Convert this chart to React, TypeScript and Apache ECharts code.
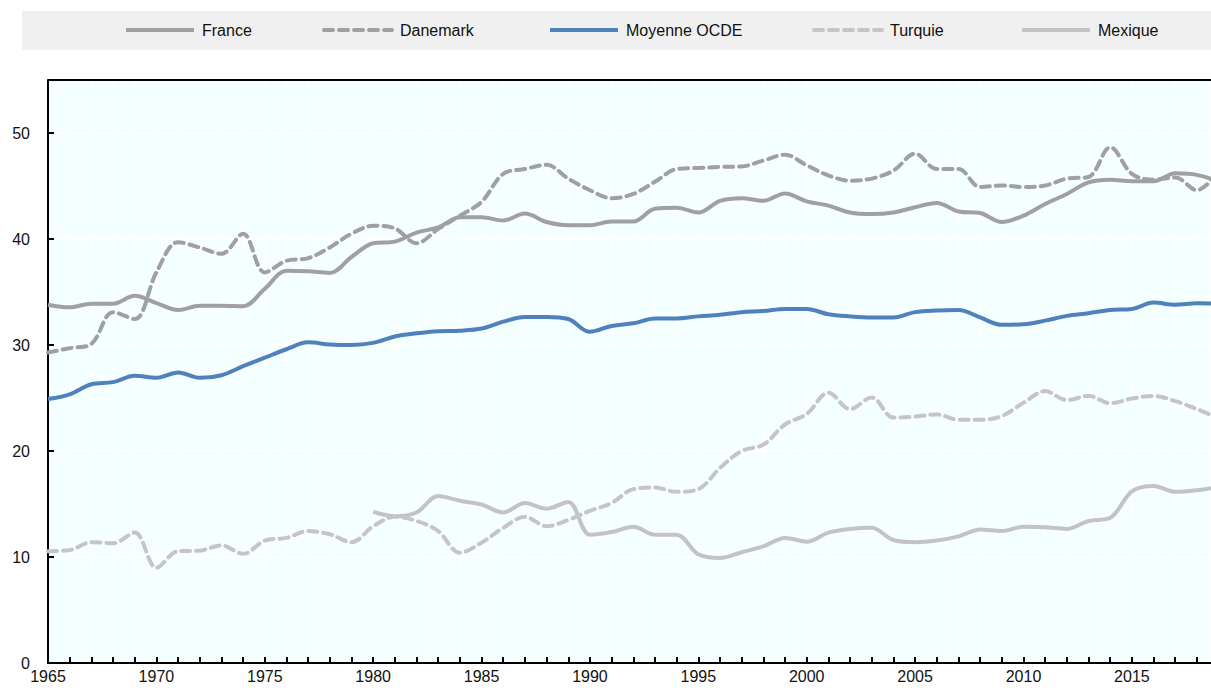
import React, { useEffect, useRef } from "react";
import * as echarts from "echarts";

const years = [
  1965, 1966, 1967, 1968, 1969, 1970, 1971, 1972, 1973, 1974, 1975, 1976, 1977, 1978, 1979,
  1980, 1981, 1982, 1983, 1984, 1985, 1986, 1987, 1988, 1989, 1990, 1991, 1992, 1993, 1994,
  1995, 1996, 1997, 1998, 1999, 2000, 2001, 2002, 2003, 2004, 2005, 2006, 2007, 2008, 2009,
  2010, 2011, 2012, 2013, 2014, 2015, 2016, 2017, 2018, 2019,
];

const france = [
  33.8, 33.55, 33.9, 33.9, 34.65, 33.95, 33.3, 33.7, 33.7, 33.65, 35.3, 37.0, 36.95, 36.8, 38.3,
  39.6, 39.75, 40.6, 41.1, 42.05, 42.05, 41.75, 42.4, 41.6, 41.3, 41.3, 41.65, 41.65, 42.85, 42.95,
  42.5, 43.6, 43.85, 43.6, 44.3, 43.55, 43.15, 42.5, 42.35, 42.5, 43.0, 43.4, 42.6, 42.45, 41.6,
  42.2, 43.3, 44.25, 45.35, 45.6, 45.45, 45.45, 46.2, 46.05, 45.4,
];

const danemark = [
  29.3, 29.7, 30.1, 33.1, 32.45, 36.85, 39.7, 39.2, 38.6, 40.5, 36.85, 37.95, 38.2, 39.2, 40.5,
  41.25, 41.0, 39.6, 40.95, 42.2, 43.5, 46.15, 46.6, 47.0, 45.7, 44.6, 43.85, 44.25, 45.4, 46.6,
  46.7, 46.8, 46.85, 47.4, 47.95, 46.95, 46.0, 45.5, 45.7, 46.45, 48.05, 46.6, 46.6, 44.9, 45.05,
  44.9, 45.05, 45.7, 45.85, 48.65, 46.15, 45.6, 45.8, 44.6, 46.4,
];

const moyenneOCDE = [
  24.9, 25.35, 26.3, 26.5, 27.1, 26.9, 27.4, 26.9, 27.15, 28.0, 28.8, 29.6, 30.25, 30.05, 30.0,
  30.2, 30.8, 31.1, 31.3, 31.35, 31.55, 32.2, 32.65, 32.65, 32.45, 31.25, 31.8, 32.05, 32.5, 32.5,
  32.7, 32.85, 33.1, 33.2, 33.4, 33.4, 32.9, 32.7, 32.6, 32.6, 33.1, 33.25, 33.3, 32.6, 31.9,
  31.95, 32.3, 32.75, 33.0, 33.3, 33.4, 34.0, 33.8, 33.95, 33.9,
];

const turquie = [
  10.55, 10.65, 11.4, 11.3, 12.3, 9.0, 10.55, 10.6, 11.1, 10.3, 11.55, 11.8, 12.45, 12.15, 11.4,
  12.9, 13.8, 13.4, 12.45, 10.4, 11.35, 12.75, 13.8, 12.9, 13.5, 14.35, 15.1, 16.4, 16.55, 16.15,
  16.4, 18.4, 20.0, 20.6, 22.5, 23.5, 25.5, 23.95, 25.05, 23.15, 23.25, 23.45, 22.95, 22.95, 23.3,
  24.55, 25.65, 24.8, 25.2, 24.5, 24.95, 25.2, 24.7, 23.95, 23.1,
];

const mexiqueYears = [
  1980, 1981, 1982, 1983, 1984, 1985, 1986, 1987, 1988, 1989, 1990, 1991, 1992, 1993, 1994,
  1995, 1996, 1997, 1998, 1999, 2000, 2001, 2002, 2003, 2004, 2005, 2006, 2007, 2008, 2009,
  2010, 2011, 2012, 2013, 2014, 2015, 2016, 2017, 2018, 2019,
];
const mexique = [
  14.25, 13.85, 14.2, 15.75, 15.3, 14.95, 14.2, 15.1, 14.55, 15.2, 12.1, 12.35, 12.85, 12.1, 12.1,
  10.25, 9.9, 10.45, 11.0, 11.8, 11.45, 12.3, 12.65, 12.75, 11.6, 11.4, 11.55, 11.95, 12.6, 12.45,
  12.85, 12.8, 12.65, 13.4, 13.7, 16.2, 16.7, 16.15, 16.3, 16.6,
];

const seriesNames = ["France", "Danemark", "Moyenne OCDE", "Turquie", "Mexique"];

const FONT = "'Liberation Sans', Arial, sans-serif";

export default function App() {
  const ref = useRef<HTMLDivElement>(null);

  useEffect(() => {
    if (!ref.current) return;
    const chart = echarts.init(ref.current, null, { renderer: "svg" });

    const pairs = (xs: number[], vs: number[]) => vs.map((v, i) => [xs[i], v]);

    const lineSeries = (
      name: string,
      data: number[][],
      color: string,
      dashed: boolean,
      z: number
    ) => ({
      name,
      type: "line",
      data,
      smooth: 0.35,
      symbol: "none",
      showSymbol: false,
      clip: true,
      z,
      lineStyle: {
        color,
        width: 4,
        type: dashed ? [9, 6] : "solid",
        cap: dashed ? "round" : "butt",
      },
      itemStyle: { color },
    });

    const legendLefts = [124, 322, 548, 812, 1020];

    chart.setOption({
      animation: false,
      textStyle: { fontFamily: FONT },
      graphic: [
        {
          type: "rect",
          z: -10,
          shape: { x: 22, y: 11, width: 1189, height: 39 },
          style: { fill: "#f0f0f0" },
        },
        {
          type: "line",
          z: 10,
          shape: { x1: 48, y1: 80, x2: 1211, y2: 80 },
          style: { stroke: "#000", lineWidth: 2 },
        },
      ],
      legend: seriesNames.map((n, i) => ({
        data: [n],
        left: legendLefts[i],
        top: 22,
        padding: 0,
        itemWidth: 68,
        itemHeight: 14,
        itemGap: 8,
        itemStyle: { opacity: 0 },
        lineStyle: { width: 4 },
        textStyle: { fontFamily: FONT, fontSize: 16, color: "#111", padding: [0, 0, 0, 3] },
      })),
      grid: {
        left: 48,
        right: 0,
        top: 80,
        bottom: 25,
        show: true,
        backgroundColor: "#f4ffff",
        borderWidth: 0,
      },
      xAxis: {
        type: "value",
        min: 1965,
        max: 2018.65,
        interval: 1,
        axisLine: { show: true, lineStyle: { color: "#000", width: 2 } },
        axisTick: { show: true, inside: true, length: 6, lineStyle: { color: "#000", width: 2 } },
        splitLine: { show: true, lineStyle: { color: "#ffffff", width: 1.5 } },
        axisLabel: {
          margin: 5,
          fontSize: 16,
          fontFamily: FONT,
          color: "#111",
          showMinLabel: true,
          showMaxLabel: false,
          formatter: (v: number) =>
            Number.isInteger(v) && (v - 1965) % 5 === 0 ? String(v) : "",
        },
      },
      yAxis: {
        type: "value",
        min: 0,
        max: 55,
        interval: 10,
        axisLine: { show: true, lineStyle: { color: "#000", width: 2 } },
        axisTick: { show: true, inside: true, length: 6, lineStyle: { color: "#000", width: 2 } },
        splitLine: { show: true, lineStyle: { color: "#ffffff", width: 2 } },
        axisLabel: {
          margin: 18,
          fontSize: 16,
          fontFamily: FONT,
          color: "#111",
          showMaxLabel: false,
          formatter: (v: number) => (v % 10 === 0 ? String(v) : ""),
        },
      },
      series: [
        lineSeries("France", pairs(years, france), "#a0a0a0", false, 5),
        lineSeries("Danemark", pairs(years, danemark), "#a0a0a0", true, 4),
        lineSeries("Moyenne OCDE", pairs(years, moyenneOCDE), "#4f81bd", false, 6),
        lineSeries("Turquie", pairs(years, turquie), "#c6c4c6", true, 3),
        lineSeries("Mexique", pairs(mexiqueYears, mexique), "#c3c3c3", false, 2),
      ],
    });

    return () => chart.dispose();
  }, []);

  return <div ref={ref} style={{ width: 1211, height: 688, position: "absolute", left: 0, top: 0 }} />;
}
